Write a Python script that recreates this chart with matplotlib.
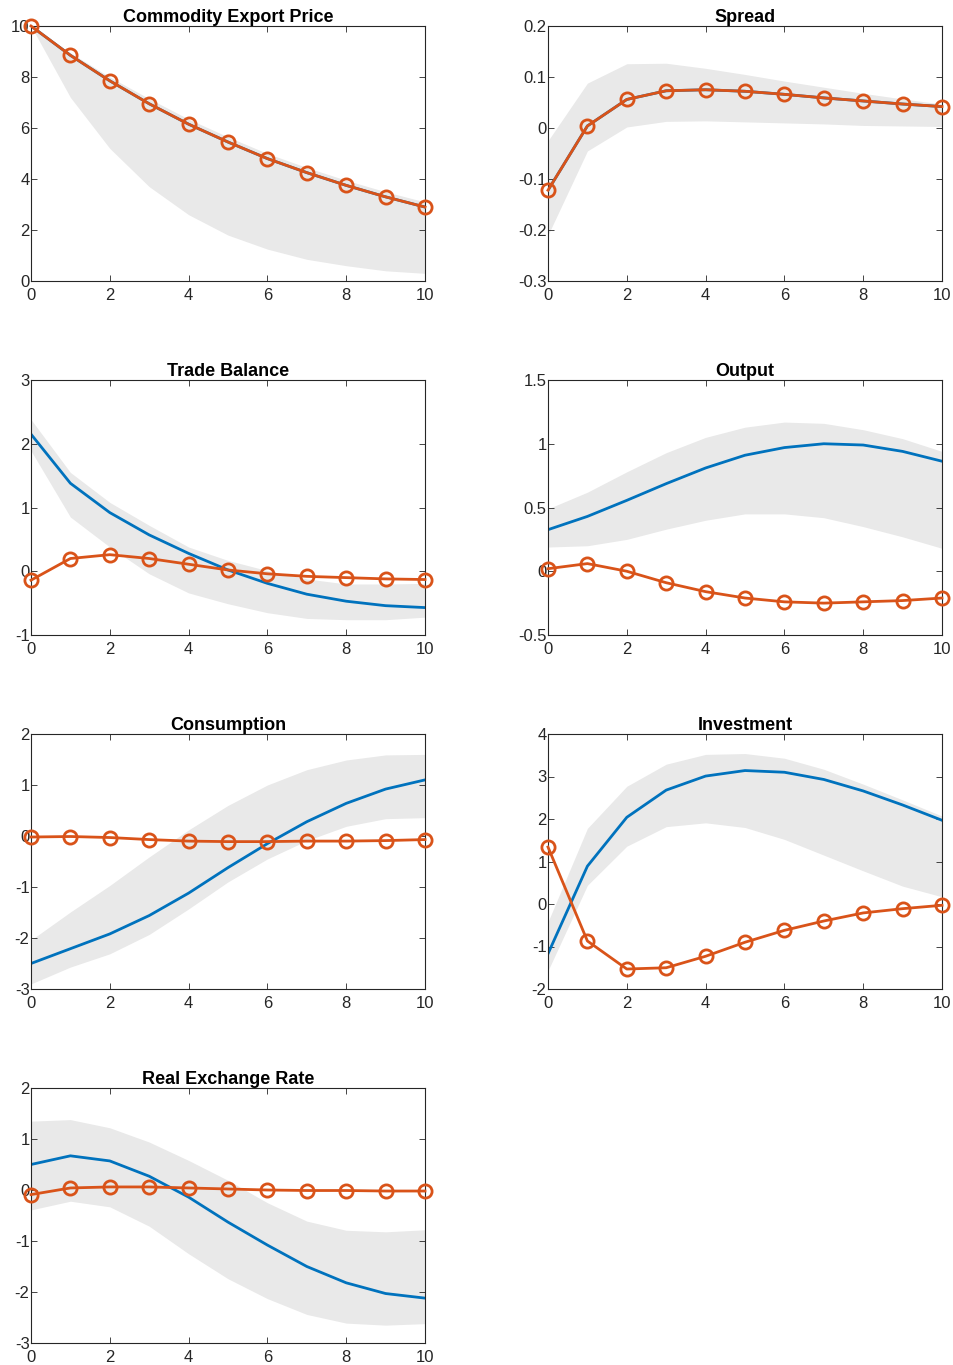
import numpy as np
import matplotlib
matplotlib.use("Agg")
from matplotlib import pyplot as plt

plt.rcParams['font.family'] = ['Liberation Sans', 'DejaVu Sans']

horizon = np.arange(0, 11)

titles = ['Commodity Export Price', 'Spread', 'Trade Balance', 'Output',
          'Consumption', 'Investment', 'Real Exchange Rate']

# commodity export price
pcom_orange = [10, 8.85, 7.85, 6.95, 6.15, 5.45, 4.8, 4.25, 3.75, 3.3, 2.9]
pcom_blue = [10, 8.85, 7.85, 6.95, 6.15, 5.45, 4.8, 4.25, 3.75, 3.3, 2.9]
pcom_hi = [10, 8.95, 8.0, 7.15, 6.35, 5.65, 5.0, 4.45, 3.95, 3.5, 3.1]
pcom_lo = [10, 7.2, 5.2, 3.7, 2.6, 1.8, 1.25, 0.85, 0.6, 0.4, 0.3]

# spread
spr_orange = [-0.122, 0.004, 0.056, 0.073, 0.075, 0.072, 0.066, 0.059, 0.053, 0.047, 0.042]
spr_blue = [-0.122, 0.004, 0.056, 0.073, 0.075, 0.072, 0.066, 0.059, 0.053, 0.047, 0.042]
spr_hi = [-0.025, 0.088, 0.126, 0.127, 0.117, 0.105, 0.092, 0.080, 0.068, 0.057, 0.047]
spr_lo = [-0.21, -0.045, 0.002, 0.013, 0.014, 0.012, 0.010, 0.008, 0.005, 0.004, 0.003]

# trade balance
tb_blue = [2.15, 1.38, 0.92, 0.57, 0.28, 0.02, -0.19, -0.36, -0.47, -0.54, -0.57]
tb_hi = [2.38, 1.55, 1.08, 0.72, 0.38, 0.17, 0.01, -0.12, -0.2, -0.2, -0.19]
tb_lo = [1.89, 0.85, 0.38, -0.04, -0.34, -0.51, -0.65, -0.74, -0.76, -0.76, -0.72]
tb_orange = [-0.14, 0.2, 0.26, 0.2, 0.11, 0.02, -0.04, -0.08, -0.1, -0.12, -0.13]

# output
y_blue = [0.326, 0.43, 0.556, 0.687, 0.81, 0.91, 0.97, 1.0, 0.99, 0.94, 0.863]
y_hi = [0.49, 0.62, 0.78, 0.93, 1.05, 1.13, 1.17, 1.16, 1.11, 1.04, 0.94]
y_lo = [0.19, 0.2, 0.25, 0.33, 0.40, 0.45, 0.45, 0.42, 0.35, 0.27, 0.18]
y_orange = [0.02, 0.06, 0.0, -0.09, -0.16, -0.21, -0.24, -0.25, -0.24, -0.23, -0.21]

# consumption
c_blue = [-2.5, -2.21, -1.92, -1.56, -1.12, -0.62, -0.15, 0.28, 0.64, 0.92, 1.1]
c_hi = [-2.04, -1.49, -0.97, -0.41, 0.12, 0.6, 1.0, 1.3, 1.49, 1.59, 1.6]
c_lo = [-2.9, -2.57, -2.31, -1.93, -1.43, -0.9, -0.45, -0.09, 0.19, 0.34, 0.36]
c_orange = [-0.02, -0.01, -0.03, -0.07, -0.1, -0.11, -0.11, -0.1, -0.1, -0.09, -0.07]

# investment
i_blue = [-1.17, 0.89, 2.04, 2.68, 3.01, 3.14, 3.1, 2.93, 2.66, 2.33, 1.97]
i_hi = [-0.42, 1.78, 2.77, 3.29, 3.52, 3.54, 3.43, 3.17, 2.82, 2.45, 2.07]
i_lo = [-1.57, 0.44, 1.36, 1.82, 1.91, 1.80, 1.52, 1.15, 0.78, 0.42, 0.17]
i_orange = [1.34, -0.87, -1.53, -1.5, -1.23, -0.9, -0.62, -0.4, -0.21, -0.11, -0.03]

# real exchange rate
rer_blue = [0.5, 0.67, 0.57, 0.27, -0.14, -0.63, -1.08, -1.5, -1.82, -2.03, -2.12]
rer_hi = [1.35, 1.38, 1.22, 0.94, 0.58, 0.19, -0.25, -0.61, -0.79, -0.82, -0.78]
rer_lo = [-0.39, -0.22, -0.33, -0.71, -1.25, -1.74, -2.13, -2.44, -2.61, -2.65, -2.62]
rer_orange = [-0.09, 0.04, 0.06, 0.06, 0.04, 0.02, 0.0, -0.01, -0.01, -0.02, -0.02]

series = [
    (pcom_blue, pcom_orange, pcom_hi, pcom_lo, [0, 2, 4, 6, 8, 10], (0, 10)),
    (spr_blue, spr_orange, spr_hi, spr_lo, [-0.3, -0.2, -0.1, 0, 0.1, 0.2], (-0.3, 0.2)),
    (tb_blue, tb_orange, tb_hi, tb_lo, [-1, 0, 1, 2, 3], (-1, 3)),
    (y_blue, y_orange, y_hi, y_lo, [-0.5, 0, 0.5, 1, 1.5], (-0.5, 1.5)),
    (c_blue, c_orange, c_hi, c_lo, [-3, -2, -1, 0, 1, 2], (-3, 2)),
    (i_blue, i_orange, i_hi, i_lo, [-2, -1, 0, 1, 2, 3, 4], (-2, 4)),
    (rer_blue, rer_orange, rer_hi, rer_lo, [-3, -2, -1, 0, 1, 2], (-3, 2)),
]

W, H = 954, 1365
col_left = [31, 548]
row_top = [26, 380, 734, 1088]
ax_w, ax_h = 394, 255

fig = plt.figure(figsize=(W / 100, H / 100), dpi=100)
edge = '#262626'

for k, (blue, orange, hi, lo, yticks, ylim) in enumerate(series):
    r, c = divmod(k, 2)
    ax = fig.add_axes([col_left[c] / W, 1 - (row_top[r] + ax_h) / H, ax_w / W, ax_h / H])
    ax.fill_between(horizon, lo, hi, color='#e9e9e9', linewidth=0)
    ax.plot(horizon, blue, color='#0072BD', lw=2)
    ax.plot(horizon, orange, color='#D95319', lw=2, marker='o', ms=9.5,
            mfc='none', mew=2, clip_on=False, zorder=5)
    ax.set_xlim(0, 10)
    ax.set_ylim(*ylim)
    ax.set_xticks([0, 2, 4, 6, 8, 10])
    ax.set_yticks(yticks)
    ax.set_yticklabels(['%g' % t for t in yticks])
    ax.tick_params(direction='in', top=True, right=True, length=4, width=0.6,
                   colors=edge, labelsize=12)
    ax.tick_params(axis='x', pad=5)
    ax.tick_params(axis='y', pad=1)
    for s in ax.spines.values():
        s.set_color(edge)
        s.set_linewidth(0.8)
    ax.set_title(titles[k], fontsize=13, fontweight='bold', pad=3)

plt.savefig('out.png', dpi=100)
